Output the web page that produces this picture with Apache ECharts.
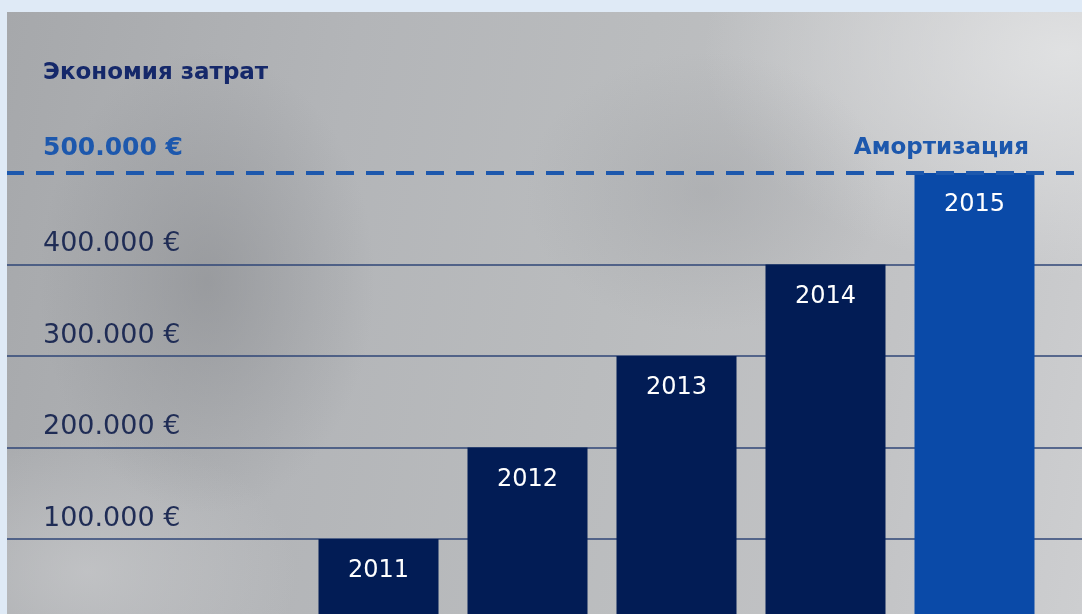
<!DOCTYPE html>
<html lang="ru">
<head>
    <meta charset="UTF-8">
    <title>Экономия затрат</title>
    <script src="https://cdn.jsdelivr.net/npm/echarts@6/dist/echarts.min.js"></script>
    <style>
        html, body { margin: 0; padding: 0; background: #dfeaf6; overflow: hidden; }
        #main {
            position: absolute; left: 7px; top: 12px; width: 1075px; height: 602px;
            background:
                radial-gradient(ellipse 240px 330px at 200px 270px, rgba(138,140,144,0.6), rgba(138,140,144,0) 70%),
                radial-gradient(ellipse 260px 200px at 700px 180px, rgba(150,152,156,0.35), rgba(150,152,156,0) 70%),
                radial-gradient(ellipse 520px 320px at 1060px 40px, rgba(228,229,230,0.85), rgba(228,229,230,0) 70%),
                radial-gradient(ellipse 300px 200px at 80px 560px, rgba(205,206,208,0.6), rgba(205,206,208,0) 70%),
                linear-gradient(100deg, #a6a8ab 0%, #b3b5b8 30%, #babcbe 55%, #c2c3c5 80%, #cdced0 100%);
        }
    </style>
</head>
<body>
<div id="main"></div>
<script>
    var years = ['2011', '2012', '2013', '2014', '2015'];
    var savings = [100000, 200000, 300000, 400000, 500000];
    var yMax = 500000;       // Амортизация
    var yStep = 100000;
    var titleText = 'Экономия затрат';
    var markText = 'Амортизация';

    var fontFamily = '"DejaVu Sans", sans-serif';

    // две пустые категории слева под подписи оси, одна справа
    var cats = ['', ''].concat(years).concat(['']);
    var vals = [null, null].concat(savings.map(function (v, i) {
        return {
            value: v,
            itemStyle: {color: i === savings.length - 1 ? '#0a4aa8' : '#021c55'}
        };
    })).concat([null]);

    function fmt(v) {
        return String(v).replace(/\B(?=(\d{3})+(?!\d))/g, '.') + ' €';
    }

    var myChart = echarts.init(document.getElementById('main'));
    var option = {
        backgroundColor: 'transparent',
        animation: false,
        title: [
            {
                text: titleText,
                left: 31,
                top: 45,
                textStyle: {fontFamily: fontFamily, fontSize: 23, fontWeight: 'bold', color: '#15286a'}
            },
            {
                text: markText,
                right: 48,
                top: 120,
                textStyle: {fontFamily: fontFamily, fontSize: 23, fontWeight: 'bold', color: '#1d58ad'}
            }
        ],
        // сетка шире окна: 0 и правый край уходят за пределы картинки
        grid: {left: -1, top: 161, width: 1192, height: 457.5, outerBoundsMode: 'none', containLabel: false},
        xAxis: {
            type: 'category',
            data: cats,
            axisLine: {show: false},
            axisTick: {show: false},
            axisLabel: {show: false}
        },
        yAxis: {
            type: 'value',
            min: 0,
            max: yMax,
            interval: yStep,
            axisLine: {show: false},
            axisTick: {show: false},
            splitLine: {
                lineStyle: {
                    width: 1.5,
                    color: ['#2f4677', '#2f4677', '#2f4677', '#2f4677', '#2f4677', 'rgba(0,0,0,0)']
                }
            },
            axisLabel: {
                inside: true,
                margin: 37,
                verticalAlign: 'bottom',
                formatter: function (v) {
                    if (v === 0) return '';
                    return v === yMax ? '{hi|' + fmt(v) + '}' : '{lo|' + fmt(v) + '}';
                },
                rich: {
                    lo: {fontFamily: fontFamily, fontSize: 27, color: '#1f2c55', padding: [0, 0, 7, 0]},
                    hi: {fontFamily: fontFamily, fontSize: 25, fontWeight: 'bold', color: '#1d58ad', padding: [0, 0, 12, 0]}
                }
            }
        },
        series: [
            {
                type: 'bar',
                data: vals,
                barWidth: 120,
                label: {
                    show: true,
                    position: 'insideTop',
                    distance: 20,
                    fontFamily: fontFamily,
                    fontSize: 24,
                    color: '#ffffff',
                    formatter: function (p) { return p.name; }
                },
                markLine: {
                    silent: true,
                    symbol: 'none',
                    label: {show: false},
                    lineStyle: {type: [18, 12], width: 4, color: '#1d58ad'},
                    data: [{yAxis: yMax}]
                }
            }
        ]
    };
    myChart.setOption(option);
</script>
</body>
</html>
